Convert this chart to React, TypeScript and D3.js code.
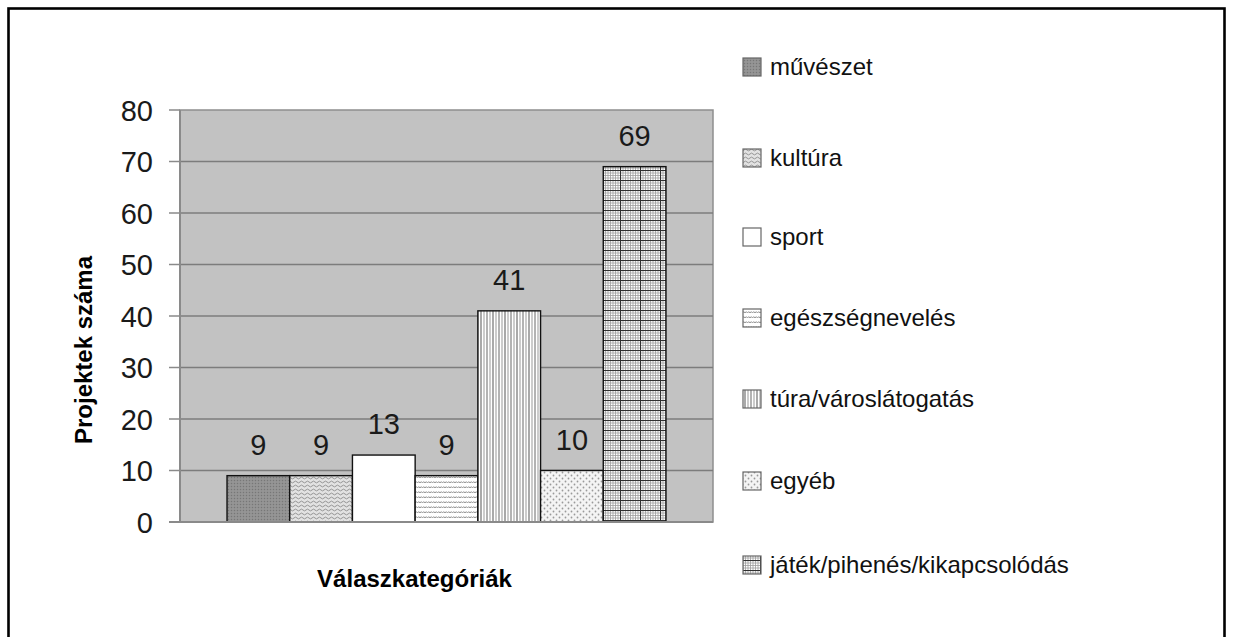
import React from "react";
import * as d3 from "d3";

const categories = [
  "művészet",
  "kultúra",
  "sport",
  "egészségnevelés",
  "túra/városlátogatás",
  "egyéb",
  "játék/pihenés/kikapcsolódás",
];
const values = [9, 9, 13, 9, 41, 10, 69];
const yTicks = [0, 10, 20, 30, 40, 50, 60, 70, 80];
const yTitle = "Projektek száma";
const xTitle = "Válaszkategóriák";

const patternIds = ["p-muv", "p-kul", "p-sport", "p-egesz", "p-tura", "p-egyeb", "p-jatek"];
// legend text baselines (layout)
const legendBaselines = [75, 166, 245, 326, 407, 489, 573];

const FONT = "'Liberation Sans', Arial, Helvetica, sans-serif";

function Patterns() {
  const thinV = [0, 2.5, 5, 7.5, 10, 12.5, 15, 17.5];
  const thinH = [0, 2.5, 5, 7.5];
  return (
    <defs>
      <pattern id="p-muv" width="3" height="3" patternUnits="userSpaceOnUse">
        <rect width="3" height="3" fill="#909090" />
        <rect x="0" y="0" width="1" height="1" fill="#777777" />
        <rect x="1.5" y="1.5" width="1" height="1" fill="#a4a4a4" />
      </pattern>
      <pattern id="p-kul" width="6" height="4" patternUnits="userSpaceOnUse">
        <rect width="6" height="4" fill="#e2e2e2" />
        <path d="M0 2 Q1.5 0.2 3 2 T6 2" fill="none" stroke="#8a8a8a" strokeWidth="0.9" />
      </pattern>
      <pattern id="p-sport" width="4" height="4" patternUnits="userSpaceOnUse">
        <rect width="4" height="4" fill="#ffffff" />
      </pattern>
      <pattern id="p-egesz" width="5" height="5" patternUnits="userSpaceOnUse">
        <rect width="5" height="5" fill="#ffffff" />
        <path d="M0 3 L1.25 1.6 L2.5 3 L3.75 1.6 L5 3" fill="none" stroke="#8a8a8a" strokeWidth="0.9" />
      </pattern>
      <pattern id="p-tura" width="12" height="4" patternUnits="userSpaceOnUse">
        <rect width="12" height="4" fill="#ffffff" />
        <line x1="1" y1="0" x2="1" y2="4" stroke="#707070" strokeWidth="1.2" />
        <line x1="4" y1="0" x2="4" y2="4" stroke="#9a9a9a" strokeWidth="1" />
        <line x1="7" y1="0" x2="7" y2="4" stroke="#808080" strokeWidth="1.2" />
        <line x1="10" y1="0" x2="10" y2="4" stroke="#9a9a9a" strokeWidth="1" />
      </pattern>
      <pattern id="p-egyeb" width="6" height="6" patternUnits="userSpaceOnUse">
        <rect width="6" height="6" fill="#f4f4f4" />
        <circle cx="1.5" cy="1.5" r="0.9" fill="#9a9a9a" />
        <circle cx="4.5" cy="4.5" r="0.9" fill="#9a9a9a" />
      </pattern>
      <pattern id="p-jatek" width="20" height="10" patternUnits="userSpaceOnUse">
        <rect width="20" height="10" fill="#ffffff" />
        {thinV.map((x) => (
          <line key={"v" + x} x1={x + 0.5} y1="0" x2={x + 0.5} y2="10" stroke="#9c9c9c" strokeWidth="0.8" />
        ))}
        {thinH.map((y) => (
          <line key={"h" + y} x1="0" y1={y + 0.5} x2="20" y2={y + 0.5} stroke="#9c9c9c" strokeWidth="0.8" />
        ))}
        <line x1="0.5" y1="0" x2="0.5" y2="10" stroke="#303030" strokeWidth="1.1" />
        <line x1="0" y1="0.5" x2="20" y2="0.5" stroke="#303030" strokeWidth="1.1" />
      </pattern>
    </defs>
  );
}

export default function App() {
  const W = 1234;
  const H = 637;
  const plotL = 180;
  const plotR = 713;
  const plotT = 110;
  const plotB = 522;

  const x = d3
    .scaleBand<string>()
    .domain(categories)
    .range([plotL, plotR])
    .paddingInner(0)
    .paddingOuter(0.75);
  const y = d3.scaleLinear().domain([0, 80]).range([plotB, plotT]);

  const legendX = 743;

  return (
    <div style={{ position: "fixed", left: 0, top: 0, width: W, height: H, background: "#fff" }}>
      <svg width={W} height={H} style={{ display: "block" }} fontFamily={FONT}>
        <Patterns />
        {/* outer frame */}
        <rect x={8.5} y={8.5} width={1216} height={700} fill="none" stroke="#000" strokeWidth={2.6} />

        {/* plot area */}
        <rect x={plotL} y={plotT} width={plotR - plotL} height={plotB - plotT} fill="#c2c2c2" stroke="#8e8e8e" strokeWidth={1.5} />
        {yTicks
          .filter((t) => t > 0 && t < 80)
          .map((t) => (
            <line key={"g" + t} x1={plotL} x2={plotR} y1={y(t)} y2={y(t)} stroke="#7c7c7c" strokeWidth={1.5} />
          ))}
        <line x1={plotL} x2={plotL} y1={plotT} y2={plotB} stroke="#8a8a8a" strokeWidth={2} />
        {yTicks.map((t) => (
          <line key={"t" + t} x1={169} x2={plotL} y1={y(t)} y2={y(t)} stroke="#8a8a8a" strokeWidth={1.5} />
        ))}
        {yTicks.map((t) => (
          <text key={"l" + t} x={153} y={y(t) + 10.5} textAnchor="end" fontSize={29} fill="#1a1a1a">
            {t}
          </text>
        ))}

        {/* bars */}
        {categories.map((c, i) => (
          <rect
            key={c}
            x={x(c)}
            y={y(values[i])}
            width={x.bandwidth()}
            height={y(0) - y(values[i])}
            fill={`url(#${patternIds[i]})`}
            stroke="#111"
            strokeWidth={1.4}
          />
        ))}
        <line x1={169} x2={plotR} y1={plotB} y2={plotB} stroke="#8a8a8a" strokeWidth={2} />

        {/* value labels */}
        {categories.map((c, i) => (
          <text
            key={"v" + c}
            x={(x(c) as number) + x.bandwidth() / 2}
            y={y(values[i]) - 21}
            textAnchor="middle"
            fontSize={29}
            fill="#1a1a1a"
          >
            {values[i]}
          </text>
        ))}

        {/* axis titles */}
        <text transform={`translate(92,350) rotate(-90)`} textAnchor="middle" fontSize={24} fontWeight="bold" fill="#000">
          {yTitle}
        </text>
        <text x={414.5} y={587} textAnchor="middle" fontSize={24} fontWeight="bold" fill="#000">
          {xTitle}
        </text>

        {/* legend */}
        {categories.map((c, i) => {
          const base = legendBaselines[i];
          return (
            <g key={"lg" + c}>
              <rect
                x={legendX}
                y={base - 17}
                width={18}
                height={18}
                fill={`url(#${patternIds[i]})`}
                stroke="#666"
                strokeWidth={1.2}
              />
              <text x={770} y={base} fontSize={24} fill="#111">
                {c}
              </text>
            </g>
          );
        })}
      </svg>
    </div>
  );
}
